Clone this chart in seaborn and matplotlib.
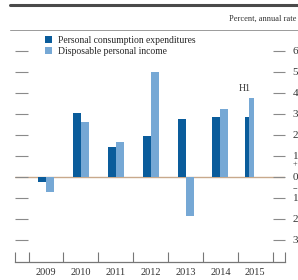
import numpy as np
import pandas as pd
import matplotlib
matplotlib.use("Agg")
import matplotlib.pyplot as plt
import seaborn as sns
from matplotlib.patches import Patch
from matplotlib.lines import Line2D
from matplotlib.ticker import FixedLocator, FuncFormatter
import matplotlib.transforms as mtransforms

# ---------------- data ----------------
years = [2009, 2010, 2011, 2012, 2013, 2014]
pce = [-0.22, 3.05, 1.45, 1.97, 2.75, 2.84]
dpi = [-0.73, 2.60, 1.65, 5.00, -1.86, 3.24]
h1_year = 2015
h1_pce = 2.87
h1_dpi = 3.78
year_labels = ["2009", "2010", "2011", "2012", "2013", "2014", "2015"]
series = ["Personal consumption expenditures", "Disposable personal income"]
colors = ["#0a5c9b", "#76a8d5"]

df = pd.DataFrame({
    "year": years * 2,
    "value": pce + dpi,
    "series": [series[0]] * len(years) + [series[1]] * len(years),
})
df_h1 = pd.DataFrame({
    "year": [h1_year - 0.175] * 2,   # first half of 2015
    "value": [h1_pce, h1_dpi],
    "series": series,
})

# ---------------- style ----------------
sns.set_theme(style="white")
plt.rcParams["font.family"] = ["Liberation Serif", "DejaVu Serif"]

fig = plt.figure(figsize=(2.98, 2.80), dpi=100)
ax = fig.add_axes([15 / 298, 18 / 280, 270 / 298, 232 / 280])

palette = dict(zip(series, colors))
sns.barplot(data=df, x="year", y="value", hue="series", hue_order=series,
            palette=palette, native_scale=True, width=0.46, errorbar=None,
            saturation=1, legend=False, ax=ax, linewidth=0)
sns.barplot(data=df_h1, x="year", y="value", hue="series", hue_order=series,
            palette=palette, native_scale=True, width=0.25, errorbar=None,
            saturation=1, legend=False, ax=ax, linewidth=0)

ax.axhline(0, color="#c8a98c", lw=1.0, zorder=0.5)

ax.set_xlim(2008.11, 2015.85)
ax.set_ylim(-4.05, 7.0)
ax.set_xlabel("")
ax.set_ylabel("")

for s in ["left", "right", "top"]:
    ax.spines[s].set_visible(False)
ax.spines["bottom"].set_color("#777777")
ax.spines["bottom"].set_linewidth(0.9)

# y ticks: marks on both sides, labels on the right only
ax.yaxis.set_major_locator(FixedLocator(range(-3, 7)))
ax.yaxis.set_major_formatter(FuncFormatter(lambda v, p: f"{abs(int(round(v)))}"))
ax.tick_params(axis="y", which="major", direction="in", length=9, width=0.8,
               color="#8a8a8a", left=True, right=True, labelleft=False,
               labelright=True, pad=5.5, labelsize=8, labelcolor="#333333")

# x ticks: labels at year centres, marks at year boundaries
ax.xaxis.set_major_locator(FixedLocator(range(2009, 2016)))
ax.set_xticklabels(year_labels)
minor = [2008.11] + [y + 0.5 for y in range(2008, 2015)] + [2015.0, 2015.5, 2015.85]
ax.xaxis.set_minor_locator(FixedLocator(minor))
ax.tick_params(axis="x", which="major", length=0, pad=4, labelsize=7.5,
               labelcolor="#333333")
ax.tick_params(axis="x", which="minor", direction="in", length=7.5, width=0.8,
               color="#777777", bottom=True)

# plus / minus signs next to zero
trans = mtransforms.blended_transform_factory(ax.transAxes, ax.transData)
ax.text(1.028, 0.62, "+", transform=trans, fontsize=6, color="#333333",
        ha="left", va="center")
ax.text(1.028, -0.6, "\u2212", transform=trans, fontsize=6, color="#333333",
        ha="left", va="center")

ax.text(h1_year - 0.30, 4.2, "H1", fontsize=7, color="#333333",
        ha="center", va="center")

handles = [Patch(facecolor=c, edgecolor="none") for c in colors]
ax.legend(handles, series, loc="upper left", bbox_to_anchor=(0.112, 0.975),
          frameon=False, fontsize=6.9, handlelength=0.75, handleheight=0.75,
          handletextpad=0.6, labelspacing=0.25, borderpad=0, borderaxespad=0)

# header rules and unit label
fig.add_artist(Line2D([10 / 298, 1], [1 - 5 / 280] * 2, lw=2.2, color="#4a4a4a"))
fig.add_artist(Line2D([10 / 298, 1], [1 - 30 / 280] * 2, lw=0.7, color="#9a9a9a"))
fig.text(296 / 298, 1 - 19 / 280, "Percent, annual rate", fontsize=6.0,
         color="#333333", ha="right", va="center")

fig.savefig("out.png", dpi=100, facecolor="white")
